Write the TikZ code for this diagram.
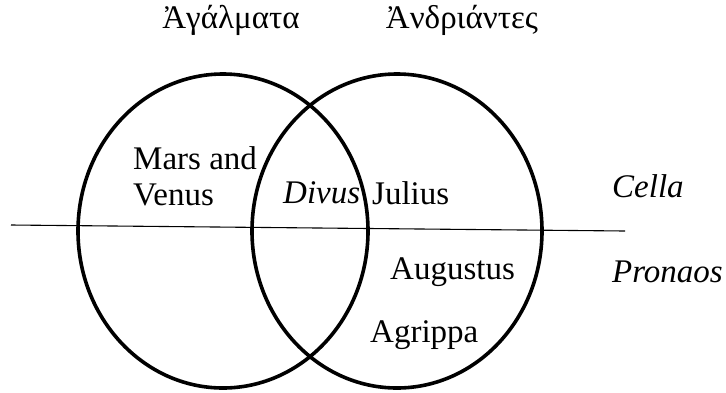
\documentclass[tikz,border=0pt]{standalone}
\usepackage{fontspec}
\setmainfont{Liberation Serif}
\tikzset{
  lbl/.style={anchor=west, inner sep=0pt, font=\fontsize{33}{36}\selectfont},
  ring/.style={line width=3.6pt}
}
\begin{document}
\begin{tikzpicture}[x=1pt, y=-1pt]
  \useasboundingbox (0,0) rectangle (726,392);

  % --- two sets ---
  \draw[ring] (223,231) ellipse (145 and 157);
  \draw[ring] (397,231) ellipse (145 and 157);

  % --- floor line ---
  \coordinate (lineL) at (11,225);
  \coordinate (lineR) at (625,231);
  \draw[line width=1.1pt] (lineL) -- (lineR);

  % --- headings ---
  \node[lbl, anchor=center] (agalmata) at (231,20) {Ἀγάλματα};
  \node[lbl, anchor=center] (andriantes) at (462,20) {Ἀνδριάντες};

  % --- inside ---
  \node[lbl] (mars) at (133,158) {Mars and};
  \node[lbl] (venus) at (133,195) {Venus};
  \node[lbl] (divus) at (283,193) {\textit{Divus}};
  \node[lbl] (julius) at (372,193) {Julius};
  \node[lbl] (augustus) at (390,272) {Augustus};
  \node[lbl] (agrippa) at (370,335) {Agrippa};

  % --- rooms ---
  \node[lbl] (cella) at (612,186) {\textit{Cella}};
  \node[lbl] (pronaos) at (612,272) {\textit{Pronaos}};

\end{tikzpicture}
\end{document}
